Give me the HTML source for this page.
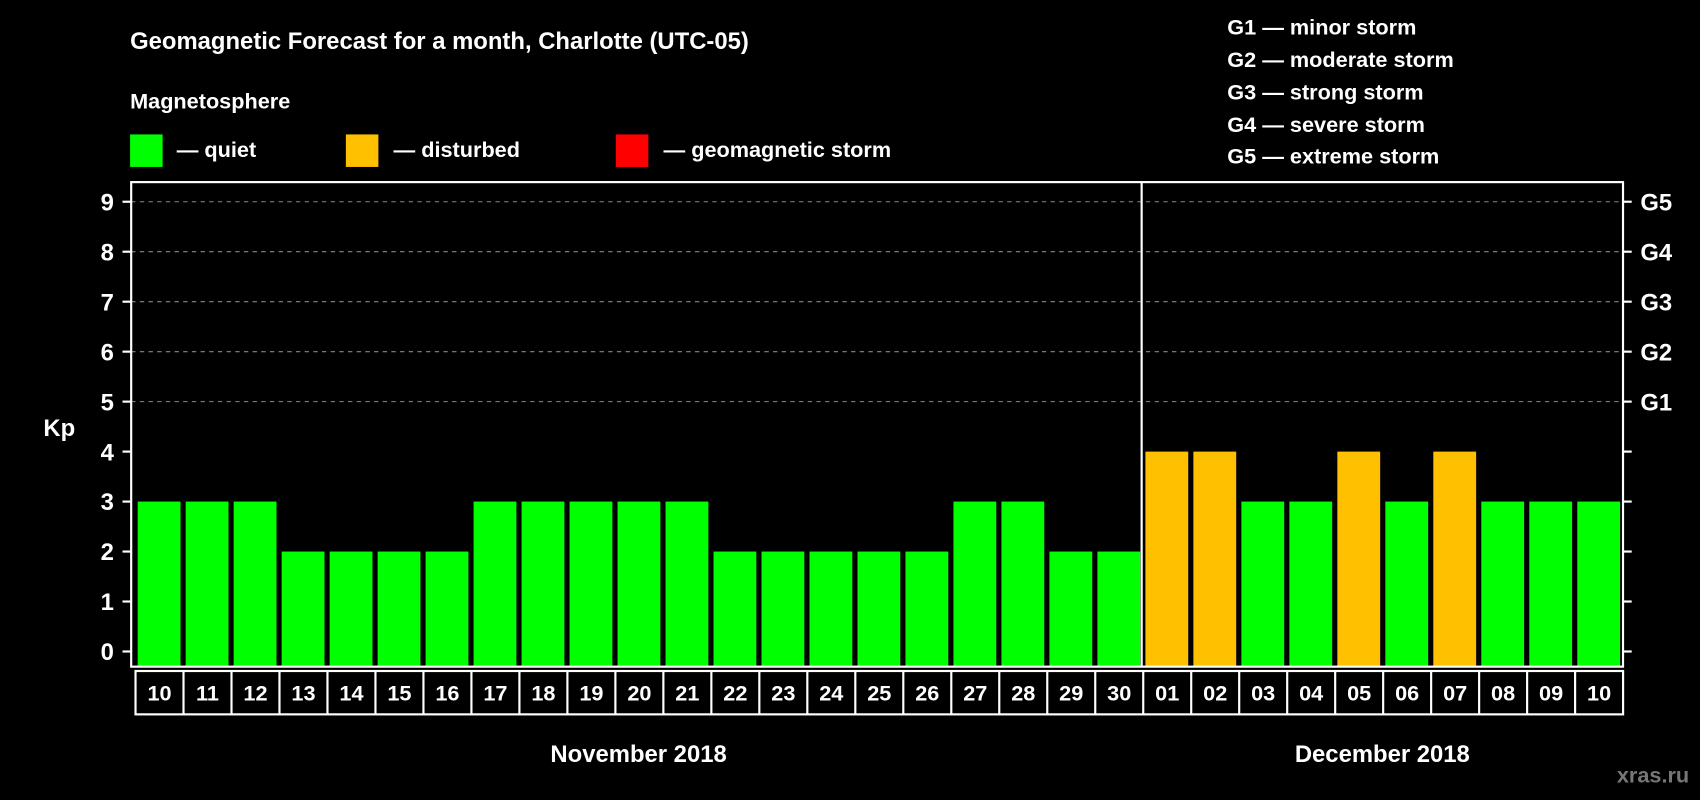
<!DOCTYPE html>
<html><head><meta charset="utf-8"><style>
html,body{margin:0;padding:0;background:#000;}
svg{display:block;font-family:"Liberation Sans",Arial,sans-serif;font-weight:bold;}
</style></head><body>
<svg id="chart" width="1700" height="800" viewBox="0 0 1568 738" preserveAspectRatio="none" xmlns="http://www.w3.org/2000/svg">
<rect width="1568" height="738" fill="#000"/>
<text x="120" y="45" fill="#fff" font-size="22">Geomagnetic Forecast for a month, Charlotte (UTC-05)</text>
<text x="120" y="100" fill="#fff" font-size="20">Magnetosphere</text>
<g><rect x="120" y="124" width="30" height="30" fill="#00ff00"/><text x="163" y="145" fill="#fff" font-size="20">— quiet</text></g>
<g><rect x="319" y="124" width="30" height="30" fill="#ffc000"/><text x="363" y="145" fill="#fff" font-size="20">— disturbed</text></g>
<g><rect x="568" y="124" width="30" height="30" fill="#ff0000"/><text x="612" y="145" fill="#fff" font-size="20">— geomagnetic storm</text></g>
<g fill="#fff" font-size="20">
<text x="1132" y="32">G1 — minor storm</text>
<text x="1132" y="62">G2 — moderate storm</text>
<text x="1132" y="92">G3 — strong storm</text>
<text x="1132" y="122">G4 — severe storm</text>
<text x="1132" y="151">G5 — extreme storm</text>
</g>
<text x="40" y="402" fill="#fff" font-size="22">Kp</text>
<g id="grid"></g>
<g id="bars"></g>
<g id="axes"></g>
<rect x="121" y="168" width="1376" height="447" fill="none" stroke="#fff" stroke-width="2"/>
<line x1="1053" y1="168" x2="1053" y2="615" stroke="#fff" stroke-width="2"/>
<g id="dates"></g>
<text x="589" y="703" fill="#fff" font-size="22" text-anchor="middle">November 2018</text>
<text x="1275" y="703" fill="#fff" font-size="22" text-anchor="middle">December 2018</text>
<text x="1558" y="722" fill="#777" font-size="20" text-anchor="end">xras.ru</text>
</svg>
<script>
const days=["10","11","12","13","14","15","16","17","18","19","20","21","22","23","24","25","26","27","28","29","30","01","02","03","04","05","06","07","08","09","10"];
const kp=[3,3,3,2,2,2,2,3,3,3,3,3,2,2,2,2,2,3,3,2,2,4,4,3,3,4,3,4,3,3,3];
const yTicks=[0,1,2,3,4,5,6,7,8,9];
const gLabels=["G1","G2","G3","G4","G5"];
const NS="http://www.w3.org/2000/svg";
const x0=125,pitch=44.26,bw=39.5;
function xs(i){return x0+i*pitch+2;}
function ys(v){return 601-v*46.1;}
function color(v){return v>=5?"#ff0000":(v>=4?"#ffc000":"#00ff00");}
function mk(tag,attrs,parent){const e=document.createElementNS(NS,tag);for(const k in attrs)e.setAttribute(k,attrs[k]);parent.appendChild(e);return e;}
const grid=document.getElementById('grid'),bars=document.getElementById('bars'),axes=document.getElementById('axes'),dates=document.getElementById('dates');
yTicks.forEach(v=>{
  const y=ys(v);
  if(v>=5){const g=mk('line',{x1:121,x2:1497,y1:y,y2:y,stroke:'#888','stroke-dasharray':'4,4','stroke-width':1},grid);
  
  }
  const t1=mk('line',{x1:113,x2:121,y1:y,y2:y,stroke:'#fff','stroke-width':2},axes);
  
  
  const t2=mk('line',{x1:1497,x2:1505,y1:y,y2:y,stroke:'#fff','stroke-width':2},axes);
  
  
  const l=mk('text',{x:105,y:y+8,fill:'#fff','font-size':22,'text-anchor':'end'},axes);
  l.textContent=v;
  
  
});
gLabels.forEach((g,i)=>{
  const l=mk('text',{x:1513,y:ys(5+i)+8,fill:'#fff','font-size':22},axes);
  l.textContent=g;
  
  
});
kp.forEach((v,i)=>{
  const r=mk('rect',{x:xs(i),y:ys(v),width:bw,height:615-ys(v),fill:color(v)},bars);
  
  
});
mk('rect',{x:125,y:619,width:pitch*31,height:40,fill:'none',stroke:'#fff','stroke-width':2},dates);
days.forEach((d,i)=>{
  if(i>0){const ln=mk('line',{x1:x0+i*pitch,x2:x0+i*pitch,y1:619,y2:659,stroke:'#fff','stroke-width':2},dates);
  
  }
  const t=mk('text',{x:x0+i*pitch+pitch/2,y:646,fill:'#fff','font-size':20,'text-anchor':'middle'},dates);
  t.textContent=d;
  
  
});
</script>
</body></html>
